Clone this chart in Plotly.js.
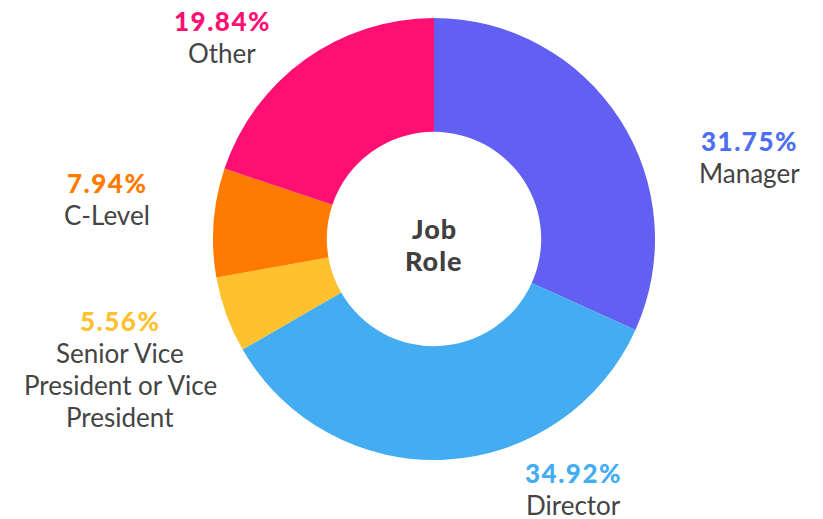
<!DOCTYPE html>
<html>
<head>
<meta charset="utf-8">
<script src="https://cdn.plot.ly/plotly-3.0.1.min.js"></script>
<style>html,body{margin:0;padding:0;background:#fff;}#chart{width:823px;height:519px;}</style>
</head>
<body>
<div id="chart"></div>
<script>
// Data
const roles = ["Manager", "Director", "Senior Vice<br>President or Vice<br>President", "C-Level", "Other"];
const counts = [40, 44, 7, 10, 25];
const sliceColors = ["#6160F2", "#44ADF2", "#FFC12E", "#FF7A00", "#FF0F72"];
const pctColors = ["#4C6EF2", "#44ADF2", "#FFC12E", "#FF7A00", "#FF0F72"];
const centerLabel = ["Job", "Role"];

// Layout positions for outside labels (pixels, centre of percentage line), one per role
const labelPos = [[749, 141], [573, 473], [120, 321], [107, 183], [222, 21]];
const lineGap = 32;

const W = 823, H = 519;
const M = {l: 213, r: 168, t: 18, b: 59};
const pw = W - M.l - M.r, ph = H - M.t - M.b;
const toX = px => (px - M.l) / pw;
const toY = py => 1 - (py - M.t) / ph;

const total = counts.reduce((a, b) => a + b, 0);
const FONT = "Lato, 'Open Sans', sans-serif";
const annotations = [];
roles.forEach((r, i) => {
  const pct = (counts[i] / total * 100).toFixed(2) + "%";
  const [px, py] = labelPos[i];
  annotations.push({
    xref: "paper", yref: "paper", x: toX(px), y: toY(py),
    xanchor: "center", yanchor: "middle", showarrow: false,
    text: '<span style="letter-spacing:1.5px">' + pct + '</span>',
    font: {family: FONT, size: 26, color: pctColors[i], weight: 900}
  });
  r.split("<br>").forEach((line, k) => {
    annotations.push({
      xref: "paper", yref: "paper", x: toX(px), y: toY(py + lineGap * (k + 1)),
      xanchor: "center", yanchor: "middle", showarrow: false,
      text: line,
      font: {family: FONT, size: 26, color: "#444444"}
    });
  });
});
centerLabel.forEach((t, k) => {
  annotations.push({
    xref: "paper", yref: "paper", x: toX(434), y: toY(228 + 32 * k),
    xanchor: "center", yanchor: "middle", showarrow: false,
    text: '<span style="letter-spacing:1px">' + t + '</span>',
    font: {family: FONT, size: 27, color: "#404040", weight: 900}
  });
});

Plotly.newPlot("chart", [{
  type: "pie",
  labels: roles,
  values: counts,
  hole: 0.485,
  sort: false,
  direction: "clockwise",
  rotation: 0,
  textinfo: "none",
  marker: {colors: sliceColors, line: {color: "#ffffff", width: 0}},
  hoverinfo: "label+percent",
  showlegend: false
}], {
  width: W, height: H,
  margin: M,
  paper_bgcolor: "#ffffff",
  annotations: annotations,
  showlegend: false
}, {displayModeBar: false, staticPlot: true});
</script>
</body>
</html>
